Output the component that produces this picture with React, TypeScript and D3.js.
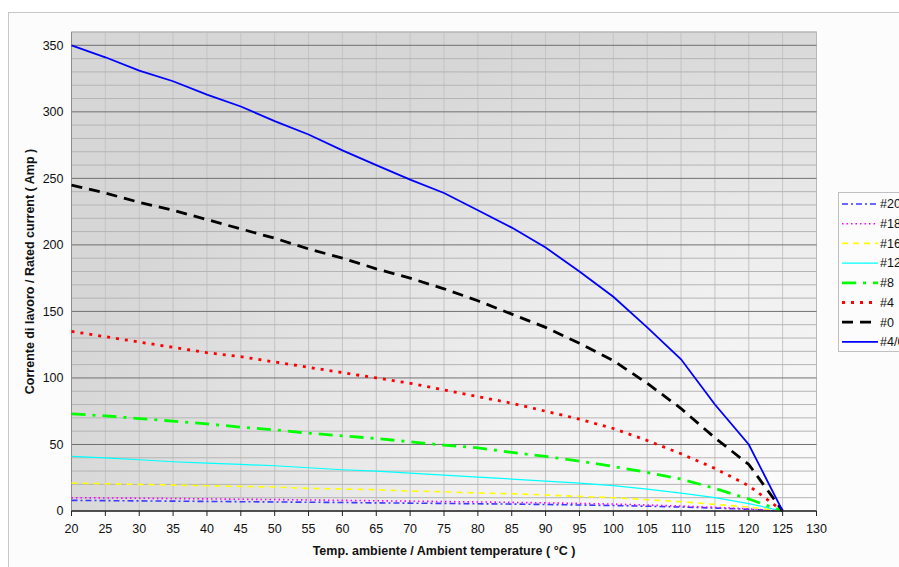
import * as d3 from "d3";

// temperatures (°C) and rated current per wire gauge (Amp)
const temps = [20, 25, 30, 35, 40, 45, 50, 55, 60, 65, 70, 75, 80, 85, 90, 95, 100, 105, 110, 115, 120, 125];
const awg40 = [350, 341, 331, 323, 313, 304, 293, 283, 271, 260, 249, 239, 226, 213, 198, 180, 161, 138, 114, 80, 50, 0];
const awg0 = [245, 239, 232, 226, 219, 212, 205, 197, 190, 182, 175, 167, 158, 148, 138, 126, 113, 96, 77, 55, 35, 0];
const awg4 = [135, 131, 127, 123, 119, 116, 112, 108, 104, 100, 96, 91, 86, 81, 75, 69, 62, 53, 43, 32, 19, 0];
const awg8 = [73, 71.5, 69.5, 67.5, 65.5, 63, 61, 58.5, 56.5, 54.5, 52, 49.5, 47.5, 44, 41, 37.5, 33.5, 29, 24, 17, 9, 0];
const awg12 = [41, 40, 38.5, 37, 36, 35, 34, 32.5, 31, 30, 28.5, 27, 25.5, 24, 22.5, 21, 19, 16.5, 13.5, 10, 5.5, 0];
const awg16 = [21, 20.5, 20, 19.5, 19, 18.5, 18, 17, 16.5, 16, 15, 14.5, 13.5, 13, 12, 11, 10, 8.5, 7, 5, 3, 0];
const awg18 = [10, 9.8, 9.6, 9.4, 9.1, 8.8, 8.6, 8.3, 8, 7.7, 7.4, 7.1, 6.8, 6.5, 6.1, 5.7, 5.2, 4.5, 3.7, 2.8, 1.6, 0];
const awg20 = [8, 7.8, 7.6, 7.4, 7.2, 7, 6.8, 6.6, 6.4, 6.1, 5.9, 5.7, 5.4, 5.2, 4.9, 4.5, 4.1, 3.6, 3, 2.2, 1.3, 0];

const xTicks = d3.range(20, 131, 5);
const yTicks = [0, 50, 100, 150, 200, 250, 300, 350];

const series = [
  { name: "#20", values: awg20, color: "#3a3aff", width: 1.6, dash: "6,3,2,3" },
  { name: "#18", values: awg18, color: "#ff00ff", width: 1.6, dash: "1.5,3" },
  { name: "#16", values: awg16, color: "#ffff00", width: 1.6, dash: "6,5" },
  { name: "#12", values: awg12, color: "#00ffff", width: 1.2, dash: "" },
  { name: "#8", values: awg8, color: "#00ff00", width: 2.8, dash: "14,7,3,7" },
  { name: "#4", values: awg4, color: "#ff0000", width: 2.8, dash: "3,6" },
  { name: "#0", values: awg0, color: "#000000", width: 2.8, dash: "11,7" },
  { name: "#4/0", values: awg40, color: "#0000ff", width: 1.8, dash: "" },
];

const W = 899;
const H = 567;
const left = 71.5;
const right = 816.5;
const top = 32;
const bottom = 511;
const font = "'Liberation Sans', Arial, sans-serif";

export default function App() {
  const x = d3.scaleLinear().domain([20, 130]).range([left, right]);
  const y = d3.scaleLinear().domain([0, 360]).range([bottom, top]);
  const line = d3
    .line<number>()
    .x((_, i) => x(temps[i]))
    .y((d) => y(d));

  const minor = d3.range(10, 361, 10).filter((v) => v % 50 !== 0);
  const major = d3.range(50, 351, 50);

  return (
    <svg
      width={W}
      height={H}
      style={{ position: "absolute", left: 0, top: 0, background: "#fff" }}
      fontFamily={font}
    >
      <defs>
        <radialGradient id="bg" cx="1" cy="1" r="1.05" fx="1" fy="1">
          <stop offset="0" stopColor="#fdfdfd" />
          <stop offset="0.45" stopColor="#f0f0f0" />
          <stop offset="1" stopColor="#d6d6d6" />
        </radialGradient>
      </defs>
      {/* outer chart frame */}
      <rect x={8.5} y={12.5} width={1000} height={600} fill="#fcfcfc" stroke="#c8c8c8" />

      {/* plot area */}
      <rect x={left} y={top} width={right - left} height={bottom - top} fill="url(#bg)" stroke="#b8b8b8" />

      {xTicks.slice(1, -1).map((t) => (
        <line key={"vx" + t} x1={x(t)} x2={x(t)} y1={top} y2={bottom} stroke="#c4c4c4" strokeWidth={1} />
      ))}
      {minor.map((t) => (
        <line key={"mn" + t} x1={left} x2={right} y1={y(t)} y2={y(t)} stroke="#b4b4b4" strokeWidth={1} />
      ))}
      {major.map((t) => (
        <line key={"mj" + t} x1={left} x2={right} y1={y(t)} y2={y(t)} stroke="#707070" strokeWidth={1} />
      ))}

      {/* y axis */}
      <line x1={left} x2={left} y1={top} y2={bottom} stroke="#8c8c8c" />
      {yTicks.map((t) => (
        <text key={"yl" + t} x={left - 8} y={y(t)} dy="0.35em" textAnchor="end" fontSize={12.5} fill="#111">
          {t}
        </text>
      ))}

      {/* series */}
      {series.map((s) => (
        <path
          key={s.name}
          d={line(s.values) || ""}
          fill="none"
          stroke={s.color}
          strokeWidth={s.width}
          strokeDasharray={s.dash || undefined}
        />
      ))}

      {/* x axis */}
      <line x1={left} x2={right} y1={bottom} y2={bottom} stroke="#222" strokeWidth={1.5} />
      {xTicks.map((t) => (
        <g key={"xt" + t}>
          <line x1={x(t)} x2={x(t)} y1={bottom} y2={bottom + 5} stroke="#222" />
          <text x={x(t)} y={bottom + 22} textAnchor="middle" fontSize={12.5} fill="#111">
            {t}
          </text>
        </g>
      ))}

      {/* axis titles */}
      <text
        x={(left + right) / 2}
        y={555}
        textAnchor="middle"
        fontSize={12.5}
        fontWeight="bold"
        fill="#111"
      >
        Temp. ambiente / Ambient temperature ( °C )
      </text>
      <text
        transform={`translate(34,${(top + bottom) / 2}) rotate(-90)`}
        textAnchor="middle"
        fontSize={12.5}
        fontWeight="bold"
        fill="#111"
      >
        Corrente di lavoro / Rated current ( Amp )
      </text>

      {/* legend */}
      <rect x={838.5} y={192.5} width={120} height={159} fill="#fcfcfc" stroke="#c0c0c0" />
      {series.map((s, i) => {
        const ly = 204 + i * 19.7;
        return (
          <g key={"lg" + s.name}>
            <line
              x1={842}
              x2={878}
              y1={ly}
              y2={ly}
              stroke={s.color}
              strokeWidth={s.width}
              strokeDasharray={s.dash || undefined}
            />
            <text x={880} y={ly} dy="0.35em" fontSize={12.5} fill="#111">
              {s.name}
            </text>
          </g>
        );
      })}
    </svg>
  );
}
